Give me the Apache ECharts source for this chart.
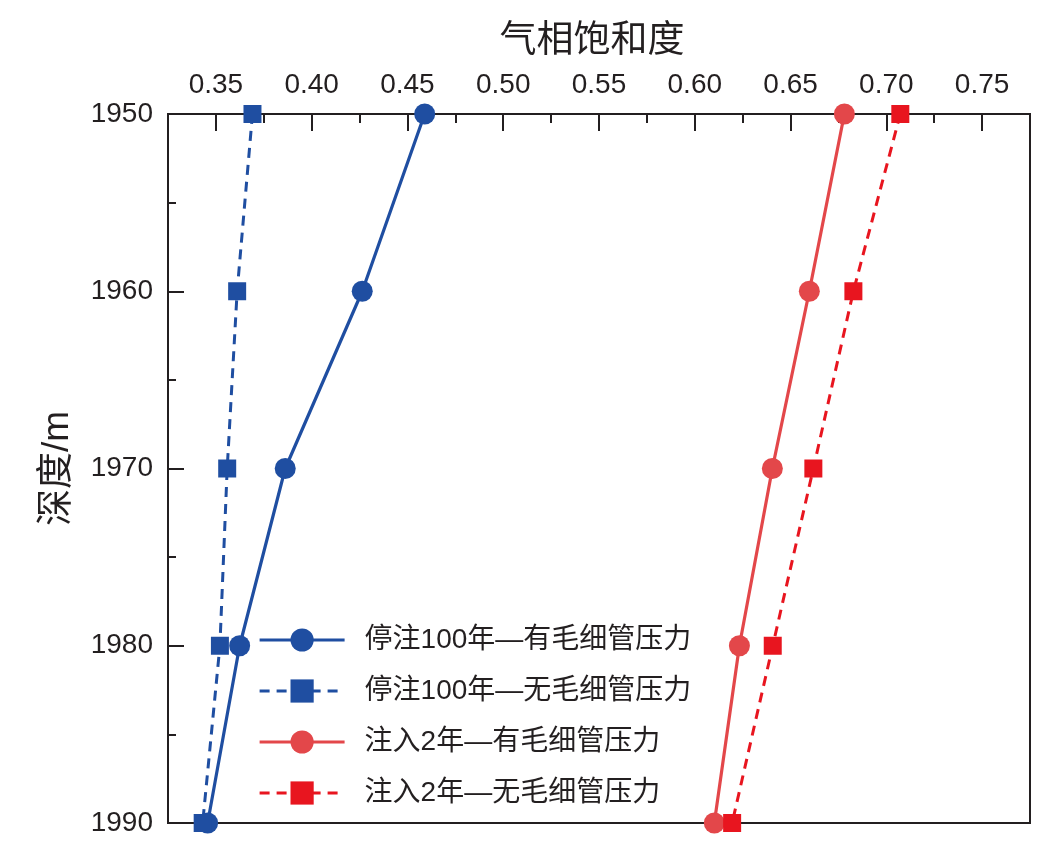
<!DOCTYPE html>
<html>
<head>
<meta charset="utf-8">
<script src="https://cdn.jsdelivr.net/npm/echarts@6/dist/echarts.min.js"></script>
<style>
html,body{margin:0;padding:0;background:#fff;}
#c{width:1059px;height:852px;}
</style>
</head>
<body>
<div id="c"></div>
<script>
const depths = [1950, 1960, 1970, 1980, 1990];
const stop100WithCap = [0.459, 0.4264, 0.3862, 0.3624, 0.3457];
const stop100NoCap   = [0.3691, 0.3611, 0.3559, 0.3521, 0.3431];
const inj2WithCap    = [0.6781, 0.6598, 0.6405, 0.6233, 0.6102];
const inj2NoCap      = [0.7073, 0.6828, 0.6619, 0.6407, 0.6195];
const seriesNames = ['停注100年—有毛细管压力', '停注100年—无毛细管压力', '注入2年—有毛细管压力', '注入2年—无毛细管压力'];
const xMajorTicks = [0.35, 0.40, 0.45, 0.50, 0.55, 0.60, 0.65, 0.70, 0.75];
const xMinorTicks = [0.325, 0.375, 0.425, 0.475, 0.525, 0.575, 0.625, 0.675, 0.725, 0.775];
const xTitle = '气相饱和度';
const yTitle = '深度/m';

const FONT = '"Liberation Sans", Arial, "Noto Sans CJK SC", sans-serif';
const INK = '#231f20';
const BLUE = '#1f4ea1';
const RED1 = '#e3474a';
const RED2 = '#e8151f';
const SOLID_W = 3.2;
const DASH_W = 3;
const DASH = [10, 7];

function pairs(vals){ return depths.map((d,i)=>[vals[i], d]); }

const chart = echarts.init(document.getElementById('c'), null, {renderer:'canvas'});
chart.setOption({
  animation: false,
  backgroundColor: '#fff',
  textStyle: {fontFamily: FONT},
  grid: {left: 168, top: 114, width: 862, height: 709, show: true, borderColor: INK, borderWidth: 2, backgroundColor: 'transparent'},
  xAxis: [{
    type: 'value', position: 'top', min: 0.325, max: 0.775,
    name: xTitle, nameLocation: 'middle', nameGap: 54,
    nameTextStyle: {fontSize: 37, color: INK, fontFamily: FONT, padding: [0, 14, 0, 0]},
    axisLine: {show: true, lineStyle: {color: INK, width: 2}},
    axisTick: {show: true, inside: true, length: 17, customValues: xMajorTicks, lineStyle: {color: INK, width: 2}},
    axisLabel: {show: true, fontSize: 28, color: INK, margin: 15, customValues: xMajorTicks,
      formatter: v => v.toFixed(2)},
    splitLine: {show: false}
  }, {
    type: 'value', position: 'top', min: 0.325, max: 0.775,
    axisLine: {show: false},
    axisTick: {show: true, inside: true, length: 9, customValues: xMinorTicks, lineStyle: {color: INK, width: 2}},
    axisLabel: {show: false},
    splitLine: {show: false}
  }],
  yAxis: {
    type: 'value', inverse: true, min: 1950, max: 1990, interval: 10,
    name: yTitle, nameLocation: 'middle', nameGap: 92, nameRotate: 90,
    nameTextStyle: {fontSize: 37, color: INK, fontFamily: FONT},
    axisLine: {show: true, lineStyle: {color: INK, width: 2}},
    axisTick: {show: true, inside: true, length: 16, lineStyle: {color: INK, width: 2}},
    minorTick: {show: true, splitNumber: 2, length: 8, lineStyle: {color: INK, width: 2}},
    axisLabel: {fontSize: 28, color: INK, margin: 15, formatter: v => String(v)},
    splitLine: {show: false}, minorSplitLine: {show: false}
  },
  legend: {
    orient: 'vertical', left: 253, top: 621, itemWidth: 85, itemHeight: 29, itemGap: 23,
    data: [
      {name: seriesNames[0], lineStyle: {width: SOLID_W, color: BLUE, type: 'solid'}},
      {name: seriesNames[1], lineStyle: {width: DASH_W, color: BLUE, type: DASH}},
      {name: seriesNames[2], lineStyle: {width: SOLID_W, color: RED1, type: 'solid'}},
      {name: seriesNames[3], lineStyle: {width: DASH_W, color: RED2, type: DASH}}
    ],
    textStyle: {fontSize: 28, color: INK, fontFamily: FONT, padding: [0, 0, 0, 15]}
  },
  series: [
    {name: seriesNames[0], type: 'line', xAxisIndex: 0, data: pairs(stop100WithCap), clip: false,
     symbol: 'circle', symbolSize: 21, itemStyle: {color: BLUE}, lineStyle: {color: BLUE, width: SOLID_W}},
    {name: seriesNames[1], type: 'line', xAxisIndex: 0, data: pairs(stop100NoCap), clip: false,
     symbol: 'rect', symbolSize: 18, itemStyle: {color: BLUE}, lineStyle: {color: BLUE, width: DASH_W, type: DASH}},
    {name: seriesNames[2], type: 'line', xAxisIndex: 0, data: pairs(inj2WithCap), clip: false,
     symbol: 'circle', symbolSize: 21, itemStyle: {color: RED1}, lineStyle: {color: RED1, width: SOLID_W}},
    {name: seriesNames[3], type: 'line', xAxisIndex: 0, data: pairs(inj2NoCap), clip: false,
     symbol: 'rect', symbolSize: 18, itemStyle: {color: RED2}, lineStyle: {color: RED2, width: DASH_W, type: DASH}}
  ]
});
</script>
</body>
</html>
